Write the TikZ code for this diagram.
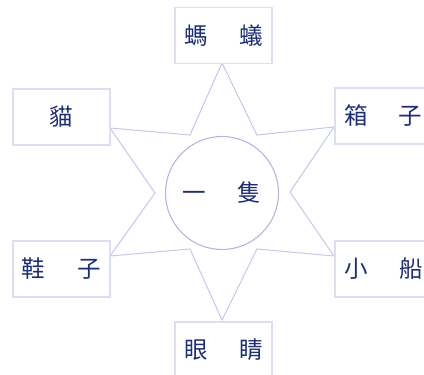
\documentclass[tikz,border=0pt]{standalone}
\usepackage{fontspec}
\newfontfamily\cjk{Noto Sans CJK TC}
\definecolor{boxline}{RGB}{220,222,243}
\definecolor{starline}{RGB}{196,198,236}
\definecolor{ringline}{RGB}{180,182,228}
\definecolor{inktext}{RGB}{28,46,122}
\begin{document}
\begin{tikzpicture}[x=1pt,y=-1pt,
  wordbox/.style={draw=boxline,line width=1.5pt,fill=white,minimum width=97pt,minimum height=56pt,inner sep=0pt,
    font=\cjk\fontsize{23.5}{23.5}\selectfont,text=inktext},
  starpath/.style={draw=starline,line width=1pt},
  ringpath/.style={draw=ringline,line width=1.1pt}]
\useasboundingbox (0,0) rectangle (424,375);
\clip (0,0) rectangle (424,375);
% star vertices
\coordinate (sT) at (222,63);
\coordinate (iUR) at (257,135);
\coordinate (sUR) at (334,127);
\coordinate (iR) at (290,192);
\coordinate (sLR) at (334,256);
\coordinate (iLR) at (257,249);
\coordinate (sB) at (222,320);
\coordinate (iLL) at (190,249);
\coordinate (sLL) at (110,256);
\coordinate (iL) at (155,193);
\coordinate (sUL) at (110,128);
\coordinate (iUL) at (190,135);
\draw[starpath] (sT) -- (iUR) -- (sUR) -- (iR) -- (sLR) -- (iLR) -- (sB) -- (iLL) -- (sLL) -- (iL) -- (sUL) -- (iUL) -- cycle;
% centre ring
\node[ringpath,circle,minimum size=113pt,inner sep=0pt,font=\cjk\fontsize{23.5}{23.5}\selectfont,text=inktext] (ring) at (222,193) {一\hspace{32pt}隻};
% boxes
\node[wordbox] (ant) at (223.5,35.5) {螞\hspace{32pt}蟻};
\node[wordbox] (cat) at (61.5,117) {貓};
\node[wordbox] (box) at (383.5,116) {箱\hspace{31pt}子};
\node[wordbox] (shoe) at (61.5,269) {鞋\hspace{32pt}子};
\node[wordbox] (boat) at (383.5,269) {小\hspace{32pt}船};
\node[wordbox] (eye) at (223.5,350) {眼\hspace{32pt}睛};
\end{tikzpicture}
\end{document}
